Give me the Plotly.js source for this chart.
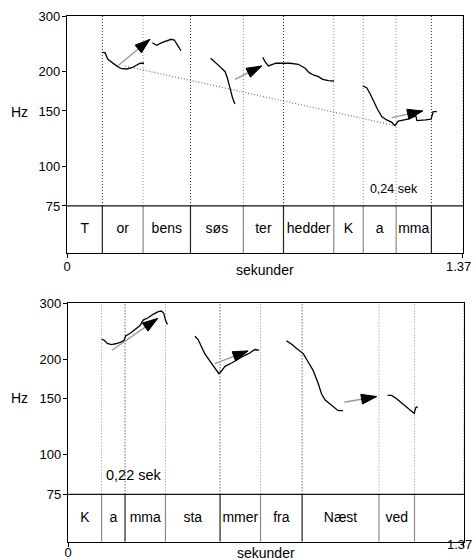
<!DOCTYPE html>
<html><head><meta charset="utf-8">
<script src="https://cdn.plot.ly/plotly-3.0.1.min.js"></script>
<style>html,body{margin:0;padding:0;background:#fff}#chart{width:474px;height:560px}</style>
</head><body><div id="chart"></div>
<script>
// ---------- data ----------
const T_END = 1.37;
const HZ_TOP = 300;
const HZ_BOX = 53.2;      // bottom of the segment-label box (below 75 Hz line)
const HZ_LINE = 75;
const yTickVals = [75, 100, 150, 200, 300];
const yTickText = ['75', '100', '150', '200', '300'];
const xTickVals = [0, 1.37];
const xTickText = ['0', ''];      // end label "1.37" placed as text so it stays inside the page
const xEndLabel = '1.37';

// top panel: "Torbens søster hedder Kamma"
const topBounds = [0.122, 0.263, 0.427, 0.610, 0.749, 0.923, 1.025, 1.139, 1.261];
const topLabels = ['T', 'or', 'bens', 'søs', 'ter', 'hedder', 'K', 'a', 'mma', ''];
const topDark = [true, false, true, false, true, false, false, false, true];

const topA_t  = [0.122, 0.131, 0.141, 0.155, 0.175, 0.189, 0.207, 0.224, 0.241, 0.253, 0.266];
const topA_hz = [230, 229.5, 218.7, 213.4, 207.3, 204.2, 203.8, 205.7, 209.8, 212.5, 212.5];
const topB_t  = [0.295, 0.310, 0.328, 0.342, 0.360, 0.371, 0.383, 0.394];
const topB_hz = [246.9, 242.3, 246.9, 249.4, 253.1, 251.8, 241, 232.9];
const topC_t  = [0.497, 0.512, 0.529, 0.547, 0.555, 0.564, 0.573, 0.581];
const topC_hz = [220.4, 213.4, 207.3, 199.8, 190.4, 177, 164.6, 157.9];
const topD_t  = [0.677, 0.685, 0.697, 0.708, 0.723, 0.748, 0.772, 0.800, 0.824, 0.838, 0.852, 0.870, 0.885, 0.904, 0.924];
const topD_hz = [222, 215, 208.3, 209.8, 212.5, 212.5, 212.5, 210.9, 204.8, 198.4, 195.1, 192.7, 189, 187.1, 186.7];
const topE_t  = [1.023, 1.037, 1.048, 1.060, 1.074, 1.089, 1.106, 1.124, 1.135, 1.146, 1.164, 1.184, 1.207, 1.211, 1.241, 1.260, 1.267, 1.280];
const topE_hz = [180, 177.8, 170.7, 161.3, 152.2, 143.9, 140.5, 138.1, 134.8, 139.4, 140.5, 141.5, 145, 139.8, 140.5, 141.2, 149.2, 149.2];

const topArrowStart_t  = [0.175, 0.581, 1.124];
const topArrowStart_hz = [208.3, 189, 142.9];
const topArrowEnd_t    = [0.287, 0.674, 1.231];
const topArrowEnd_hz   = [253.1, 208.3, 150];
const topDecl_t  = [0.201, 1.135];
const topDecl_hz = [208.3, 134.8];
const topNote = {t: 1.130, hz: 84.3, text: '0,24 sek'};

// bottom panel: "Kamma stammer fra Næstved"
const botBounds = [0.116, 0.197, 0.337, 0.526, 0.666, 0.810, 1.076, 1.199];
const botLabels = ['K', 'a', 'mma', 'sta', 'mmer', 'fra', 'Næst', 'ved', ''];
const botDark = [false, true, false, true, false, true, false, false];

const botF_t  = [0.116, 0.125, 0.136, 0.150, 0.168, 0.185, 0.194, 0.199, 0.214, 0.231, 0.248, 0.260, 0.277, 0.294, 0.312, 0.323, 0.331, 0.337, 0.344];
const botF_hz = [231.2, 229.5, 224.1, 222.4, 224.1, 226.7, 229.5, 236.8, 241, 248.2, 254.8, 265.6, 270.1, 276.9, 282.2, 283.6, 278.9, 265.6, 257.4];
const botG_t  = [0.439, 0.450, 0.462, 0.473, 0.491, 0.508, 0.522, 0.531, 0.543, 0.566, 0.587, 0.598, 0.612, 0.629, 0.646, 0.660];
const botG_hz = [236.3, 230.7, 218.6, 208.3, 197.3, 186.7, 180, 183.5, 189.9, 194.5, 199.4, 203.2, 205.7, 209.2, 214.5, 213.4];
const botH_t  = [0.756, 0.774, 0.791, 0.814, 0.831, 0.848, 0.866, 0.877, 0.889, 0.906, 0.923, 0.935, 0.952];
const botH_hz = [228.4, 222.9, 216, 208.3, 195.9, 184.4, 167.3, 155.6, 148.9, 144.6, 140.5, 137.7, 137.7];
const botI_t  = [1.106, 1.120, 1.137, 1.154, 1.172, 1.189, 1.198, 1.203, 1.210];
const botI_hz = [153.7, 153.7, 150, 145.3, 140.5, 137, 135, 140.5, 141.8];

const botArrowStart_t  = [0.152, 0.508, 0.956];
const botArrowStart_hz = [213.4, 193.7, 146.3];
const botArrowEnd_t    = [0.310, 0.623, 1.068];
const botArrowEnd_hz   = [268.9, 212.3, 152.5];
const botNote = {t: 0.226, hz: 85.7, text: '0,22 sek'};

// ---------- build ----------
const FONT = 'Liberation Sans, Arial, Helvetica, sans-serif';
const DOTS = '1px,2px';
const traces = [];

function panel(xr, yr, bounds, labels, dark, contours, aS_t, aS_hz, aE_t, aE_hz, decl, note, noteSize) {
  const groups = [[true, '#222'], [false, '#8a8a8a']];
  groups.forEach(([isDark, col]) => {
    const sx = [], sy = [], dx = [], dy = [];
    bounds.forEach((b, i) => {
      if (dark[i] !== isDark) return;
      sx.push(b, b, null); sy.push(HZ_BOX, HZ_LINE, null);
      dx.push(b, b, null); dy.push(HZ_LINE, HZ_TOP, null);
    });
    traces.push({x: dx, y: dy, xaxis: xr, yaxis: yr, mode: 'lines', line: {color: col, width: 1, dash: DOTS}, hoverinfo: 'skip'});
    traces.push({x: sx, y: sy, xaxis: xr, yaxis: yr, mode: 'lines', line: {color: col, width: 1.2}, hoverinfo: 'skip'});
  });
  traces.push({x: [T_END, T_END], y: [HZ_LINE, HZ_TOP], xaxis: xr, yaxis: yr, mode: 'lines', line: {color: '#8a8a8a', width: 1, dash: DOTS}, hoverinfo: 'skip'});
  traces.push({x: [0, T_END], y: [HZ_LINE, HZ_LINE], xaxis: xr, yaxis: yr, mode: 'lines', line: {color: '#111', width: 1.2}, hoverinfo: 'skip'});
  const edges = [0, ...bounds, T_END];
  const lx = [], ly = [];
  labels.forEach((l, i) => { lx.push((edges[i] + edges[i + 1]) / 2); ly.push(Math.sqrt(HZ_BOX * HZ_LINE)); });
  traces.push({x: lx, y: ly, text: labels, xaxis: xr, yaxis: yr, mode: 'text', textposition: 'middle center',
    textfont: {family: FONT, size: 14, color: '#000'}, hoverinfo: 'skip', cliponaxis: false});
  if (decl) traces.push({x: decl[0], y: decl[1], xaxis: xr, yaxis: yr, mode: 'lines', line: {color: '#777', width: 1.2, dash: DOTS}, hoverinfo: 'skip'});
  contours.forEach(([t, hz]) => traces.push({x: t, y: hz, xaxis: xr, yaxis: yr, mode: 'lines', line: {color: '#000', width: 1.3}, hoverinfo: 'skip'}));
  aS_t.forEach((_, i) => {
    traces.push({x: [aS_t[i], aE_t[i]], y: [aS_hz[i], aE_hz[i]], xaxis: xr, yaxis: yr, mode: 'lines',
      line: {color: '#9a9a9a', width: 1.4}, hoverinfo: 'skip'});
    traces.push({x: [aS_t[i], aE_t[i]], y: [aS_hz[i], aE_hz[i]], xaxis: xr, yaxis: yr, mode: 'markers',
      marker: {symbol: 'arrow', angleref: 'previous', size: [0, 16], color: '#000', opacity: 1, line: {width: 1, color: '#000'}},
      hoverinfo: 'skip', cliponaxis: false});
  });
  traces.push({x: [note.t], y: [note.hz], text: [note.text], xaxis: xr, yaxis: yr, mode: 'text', textposition: 'middle center',
    textfont: {family: FONT, size: noteSize, color: '#000'}, hoverinfo: 'skip'});
}

panel('x', 'y', topBounds, topLabels, topDark,
  [[topA_t, topA_hz], [topB_t, topB_hz], [topC_t, topC_hz], [topD_t, topD_hz], [topE_t, topE_hz]],
  topArrowStart_t, topArrowStart_hz, topArrowEnd_t, topArrowEnd_hz, [topDecl_t, topDecl_hz], topNote, 12.5);
panel('x2', 'y2', botBounds, botLabels, botDark,
  [[botF_t, botF_hz], [botG_t, botG_hz], [botH_t, botH_hz], [botI_t, botI_hz]],
  botArrowStart_t, botArrowStart_hz, botArrowEnd_t, botArrowEnd_hz, null, botNote, 14.5);

const W = 474, H = 560;
function xax(domain, anchor, standoff) {
  return {domain, anchor, range: [-0.0004, T_END + 0.0004], tickvals: xTickVals, ticktext: xTickText, ticks: 'outside', ticklen: 4,
    tickcolor: '#000', showline: true, mirror: true, linecolor: '#000', linewidth: 1.2, showgrid: false, zeroline: false,
    ticklabelstandoff: standoff, ticklabeloverflow: 'allow',
    tickfont: {family: FONT, size: 13, color: '#000'}, fixedrange: true};
}
function yax(domain, anchor) {
  return {domain, anchor, type: 'log', range: [Math.log10(HZ_BOX), Math.log10(HZ_TOP)], tickvals: yTickVals, ticktext: yTickText,
    ticks: 'outside', ticklen: 4, tickcolor: '#000', showline: true, mirror: true, linecolor: '#000', linewidth: 1.2,
    showgrid: false, zeroline: false, ticklabelstandoff: -1, tickfont: {family: FONT, size: 13, color: '#000'}, fixedrange: true};
}
const txt = (text, xref, x, y, size, extra) => Object.assign({text, xref, yref: 'paper', x, y: (H - y) / H,
  xanchor: 'center', yanchor: 'middle', showarrow: false, font: {size, family: FONT, color: '#000'}}, extra || {});
const layout = {
  width: W, height: H, margin: {l: 0, r: 0, t: 0, b: 0}, paper_bgcolor: '#fff', plot_bgcolor: '#fff',
  showlegend: false, hovermode: false, font: {family: FONT, color: '#000'},
  xaxis: xax([67 / W, 463 / W], 'y', -3),
  yaxis: yax([(H - 253) / H, (H - 16) / H], 'x'),
  xaxis2: xax([68 / W, 464 / W], 'y2', -6),
  yaxis2: yax([(H - 541.7) / H, (H - 303.3) / H], 'x2'),
  annotations: [
    txt('Hz', 'paper', 19.5 / W, 112, 14),
    txt('Hz', 'paper', 19.5 / W, 398, 14),
    txt('sekunder', 'x domain', 0.5, 270, 14),
    txt('sekunder', 'x2 domain', 0.5, 553, 14),
    txt(xEndLabel, 'x', T_END, 266, 13, {xshift: -4}),
    txt(xEndLabel, 'x2', T_END, 544, 13, {xshift: -4})
  ]
};
Plotly.newPlot('chart', traces, layout, {staticPlot: true, displayModeBar: false});
</script></body></html>
